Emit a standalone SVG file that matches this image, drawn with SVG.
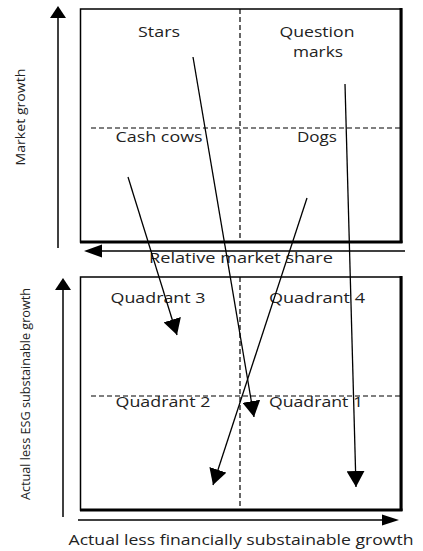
<svg xmlns="http://www.w3.org/2000/svg" width="423" height="551" viewBox="0 0 423 551">
<style>
text{font-family:"Open Sans","DejaVu Sans",sans-serif;font-size:14px;fill:#222;}
.box{fill:none;stroke:#000;stroke-width:1.5;}
.heavy{stroke:#000;stroke-width:3;fill:none;}
.dash{stroke:#000;stroke-width:1.2;stroke-dasharray:5,3;fill:none;}
.axis{stroke:#000;stroke-width:1.5;fill:none;}
.conn{stroke:#000;stroke-width:1.3;fill:none;marker-end:url(#ah);}
</style>
<defs>
<marker id="ah" markerUnits="userSpaceOnUse" markerWidth="16" markerHeight="18" refX="16" refY="9" orient="auto" viewBox="0 0 16 18">
<path d="M0,0 L16,9 L0,18 z" fill="#000"/>
</marker>
</defs>
<g id="bcg-matrix">
<rect class="box" x="80.5" y="9" width="321" height="233"/>
<line class="heavy" x1="401" y1="8" x2="401" y2="243"/>
<line class="heavy" x1="80" y1="242" x2="402.5" y2="242"/>
<line class="dash" x1="240" y1="9" x2="240" y2="242"/>
<line class="dash" x1="91" y1="128" x2="401" y2="128"/>
</g>
<g id="esg-matrix">
<rect class="box" x="80.5" y="277" width="321" height="233"/>
<line class="heavy" x1="401" y1="276" x2="401" y2="511"/>
<line class="heavy" x1="80" y1="510" x2="402.5" y2="510"/>
<line class="dash" x1="240" y1="277" x2="240" y2="510"/>
<line class="dash" x1="91" y1="396" x2="401" y2="396"/>
</g>
<g id="axes">
<line class="axis" x1="58" y1="248" x2="58" y2="17"/>
<path d="M58,6 L66,18 L50,18 z" fill="#000"/>
<line class="axis" x1="100" y1="251" x2="405" y2="251"/>
<path d="M84,251 L102,244.5 L102,257.5 z" fill="#000"/>
<line class="axis" x1="63" y1="517" x2="63" y2="289"/>
<path d="M63,278 L71,290 L55,290 z" fill="#000"/>
<line class="axis" x1="78" y1="520" x2="384" y2="520"/>
<path d="M399,520 L382,514.5 L382,525.5 z" fill="#000"/>
</g>
<g id="labels-bcg">
<text id="stars" x="159" y="37" text-anchor="middle" textLength="42" lengthAdjust="spacingAndGlyphs">Stars</text>
<text id="question-marks" x="317" y="37" text-anchor="middle" textLength="75" lengthAdjust="spacingAndGlyphs">Question</text>
<text x="318" y="57" text-anchor="middle" textLength="50" lengthAdjust="spacingAndGlyphs">marks</text>
<text id="cash-cows" x="159" y="142" text-anchor="middle" textLength="87" lengthAdjust="spacingAndGlyphs">Cash cows</text>
<text id="dogs" x="317" y="142" text-anchor="middle" textLength="40" lengthAdjust="spacingAndGlyphs">Dogs</text>
</g>
<g id="labels-esg">
<text id="q3" x="158" y="303" text-anchor="middle" textLength="95" lengthAdjust="spacingAndGlyphs">Quadrant 3</text>
<text id="q4" x="317" y="303" text-anchor="middle" textLength="96" lengthAdjust="spacingAndGlyphs">Quadrant 4</text>
<text id="q2" x="163" y="407" text-anchor="middle" textLength="95" lengthAdjust="spacingAndGlyphs">Quadrant 2</text>
<text id="q1" x="316" y="407" text-anchor="middle" textLength="94" lengthAdjust="spacingAndGlyphs">Quadrant 1</text>
</g>
<g id="axis-labels">
<text x="241" y="263" text-anchor="middle" textLength="184" lengthAdjust="spacingAndGlyphs">Relative market share</text>
<text x="241" y="545" text-anchor="middle" textLength="345" lengthAdjust="spacingAndGlyphs">Actual less financially substainable growth</text>
<text transform="translate(25,117) rotate(-90)" text-anchor="middle" textLength="97" lengthAdjust="spacingAndGlyphs" style="font-size:13.5px">Market growth</text>
<text transform="translate(30,394) rotate(-90)" text-anchor="middle" textLength="212" lengthAdjust="spacingAndGlyphs" style="font-size:13.5px">Actual less ESG substainable growth</text>
</g>
<g id="connectors">
<line class="conn" x1="128" y1="177" x2="177" y2="335"/>
<line class="conn" x1="193" y1="57" x2="254" y2="417"/>
<line class="conn" x1="307" y1="198" x2="213" y2="485"/>
<line class="conn" x1="345" y1="84" x2="356" y2="487"/>
</g>
</svg>
